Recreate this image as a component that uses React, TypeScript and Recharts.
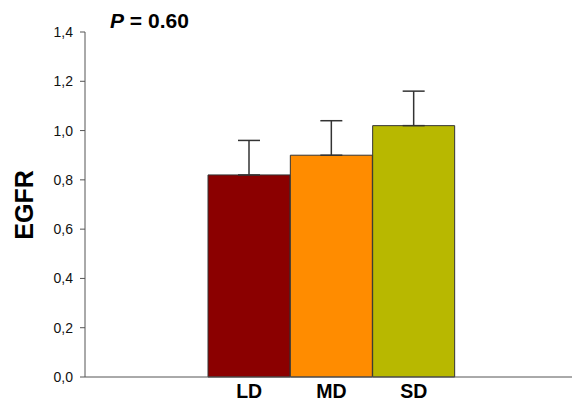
import { BarChart, Bar, XAxis, YAxis, ErrorBar, Cell } from "recharts";

const groups = ["LD", "MD", "SD"];
const egfr = [0.82, 0.9, 1.02];
const sem = [0.14, 0.14, 0.14];
const colors = ["#8b0000", "#ff8c00", "#b8b800"];
const yTicks = [0, 0.2, 0.4, 0.6, 0.8, 1.0, 1.2, 1.4];

const data = groups.map((g, i) => ({ group: g, value: egfr[i], err: [0, sem[i]] }));

const fmt = (v: number) => v.toFixed(1).replace(".", ",");
const font = "Arial, 'Liberation Sans', sans-serif";

export default function App() {
    return (
        <div style={{ position: "absolute", left: 0, top: 0, width: 576, height: 402, background: "#fff", fontFamily: font }}>
            <BarChart
                width={576}
                height={402}
                data={data}
                margin={{ top: 32, right: 4, bottom: 0, left: 0 }}
                barCategoryGap={0}
            >
                <text x={110} y={28} fontSize={21} fontWeight={700} fill="#000" fontFamily={font}>
                    <tspan fontStyle="italic">P</tspan>
                    <tspan> = 0.60</tspan>
                </text>
                <text
                    x={33}
                    y={205}
                    transform="rotate(-90 33 205)"
                    textAnchor="middle"
                    fontSize={25}
                    fontWeight={700}
                    fill="#000"
                    fontFamily={font}
                >
                    EGFR
                </text>
                <XAxis
                    dataKey="group"
                    height={25}
                    stroke="#555"
                    tickLine={false}
                    padding={{ left: 123, right: 117 }}
                    tick={{ fontSize: 19.5, fontWeight: 700, fill: "#000" }}
                    tickMargin={1}
                />
                <YAxis
                    width={85}
                    domain={[0, 1.4]}
                    ticks={yTicks}
                    tickFormatter={fmt}
                    stroke="#555"
                    tickSize={5}
                    tickMargin={7}
                    tick={{ fontSize: 14, fill: "#111" }}
                />
                <Bar dataKey="value" stroke="#333" strokeWidth={1} isAnimationActive={false}>
                    {data.map((d, i) => (
                        <Cell key={d.group} fill={colors[i]} />
                    ))}
                    <ErrorBar dataKey="err" width={11} stroke="#333" strokeWidth={1.5} direction="y" />
                </Bar>
            </BarChart>
        </div>
    );
}
